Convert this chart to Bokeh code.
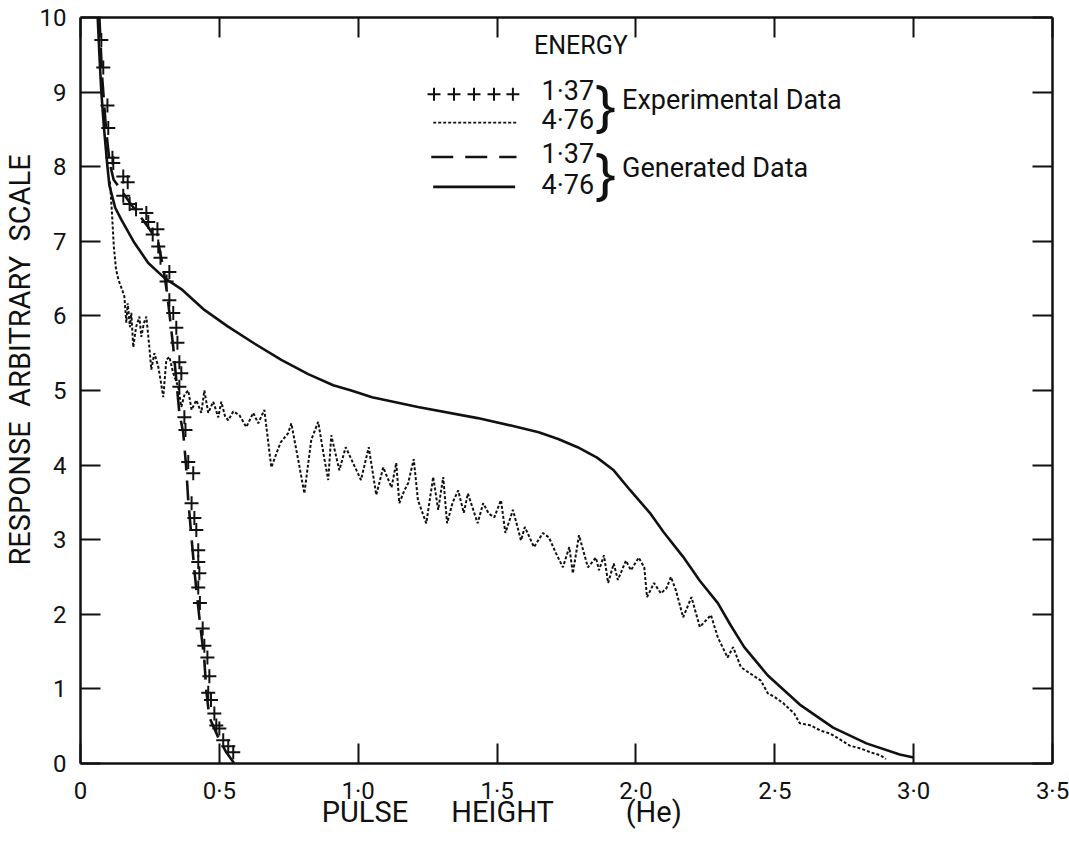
from bokeh.plotting import figure
from bokeh.models import Range1d, LinearAxis, FixedTicker, Title
from bokeh.embed import file_html
from bokeh.resources import INLINE
from bokeh.core.properties import value

# ---------------- data ----------------
# Experimental data, energy 1.37 (crosses)
exp137_x = [0.075, 0.082, 0.097, 0.100, 0.115, 0.118, 0.154, 0.170, 0.154, 0.177, 0.200, 0.237,
            0.244, 0.277, 0.260, 0.280, 0.288, 0.320, 0.310, 0.320, 0.334, 0.345, 0.349, 0.356,
            0.363, 0.356, 0.374, 0.378, 0.388, 0.406, 0.400, 0.410, 0.417, 0.424, 0.424, 0.428,
            0.424, 0.430, 0.440, 0.446, 0.457, 0.464, 0.460, 0.470, 0.482, 0.489, 0.500, 0.514,
            0.532, 0.550]
exp137_y = [9.70, 9.33, 8.82, 8.52, 8.12, 8.05, 7.87, 7.79, 7.61, 7.50, 7.43, 7.38,
            7.26, 7.16, 7.09, 6.93, 6.78, 6.59, 6.46, 6.21, 6.04, 5.84, 5.64, 5.38,
            5.23, 5.05, 4.64, 4.47, 4.04, 3.89, 3.49, 3.29, 3.13, 2.86, 2.70, 2.55,
            2.36, 2.15, 1.81, 1.58, 1.42, 1.17, 0.95, 0.85, 0.67, 0.51, 0.47, 0.31,
            0.23, 0.15]

# Experimental data, energy 4.76 (short dashes)
exp476_x = [0.106, 0.113, 0.120, 0.128, 0.137, 0.150, 0.158, 0.165, 0.170, 0.178, 0.183, 0.190,
            0.200, 0.212, 0.219, 0.228, 0.237, 0.248, 0.255, 0.266, 0.280, 0.290, 0.298, 0.309,
            0.320, 0.334, 0.352, 0.363, 0.375, 0.388, 0.400, 0.417, 0.435, 0.446, 0.460, 0.478,
            0.496, 0.507, 0.520, 0.532, 0.550, 0.572, 0.597, 0.622, 0.640, 0.662, 0.687, 0.720,
            0.748, 0.759, 0.785, 0.806, 0.831, 0.856, 0.875, 0.892, 0.903, 0.932, 0.955, 0.985,
            1.010, 1.038, 1.065, 1.090, 1.120, 1.137, 1.148, 1.165, 1.180, 1.200, 1.215, 1.245,
            1.270, 1.288, 1.306, 1.320, 1.340, 1.360, 1.380, 1.395, 1.430, 1.450, 1.470, 1.490,
            1.514, 1.530, 1.557, 1.575, 1.586, 1.600, 1.633, 1.665, 1.687, 1.712, 1.737, 1.760,
            1.773, 1.795, 1.827, 1.856, 1.867, 1.885, 1.900, 1.920, 1.935, 1.964, 1.982, 2.010,
            2.030, 2.040, 2.065, 2.090, 2.110, 2.126, 2.144, 2.170, 2.200, 2.230, 2.270, 2.295,
            2.330, 2.350, 2.378, 2.410, 2.450, 2.475, 2.500, 2.530, 2.570, 2.590, 2.630, 2.665,
            2.700, 2.740, 2.770, 2.810, 2.845, 2.880, 2.900]
exp476_y = [7.80, 7.40, 6.93, 6.62, 6.48, 6.35, 6.26, 5.91, 6.17, 5.85, 6.04, 5.58,
            5.85, 5.99, 5.72, 5.90, 5.99, 5.58, 5.28, 5.50, 5.32, 5.10, 4.91, 5.41,
            5.45, 5.23, 5.05, 4.78, 4.95, 5.00, 4.74, 4.87, 4.70, 5.00, 4.70, 4.85,
            4.64, 4.85, 4.66, 4.60, 4.72, 4.67, 4.51, 4.70, 4.56, 4.74, 3.97, 4.30,
            4.43, 4.56, 4.05, 3.62, 4.34, 4.58, 4.15, 3.80, 4.40, 3.93, 4.24, 4.00,
            3.80, 4.24, 3.60, 3.97, 3.70, 4.03, 3.49, 3.65, 3.76, 4.08, 3.53, 3.22,
            3.84, 3.40, 3.84, 3.22, 3.50, 3.66, 3.36, 3.62, 3.22, 3.49, 3.35, 3.30,
            3.53, 3.09, 3.40, 3.15, 2.99, 3.17, 2.90, 3.09, 3.03, 2.82, 2.63, 2.90,
            2.55, 3.06, 2.63, 2.76, 2.59, 2.79, 2.42, 2.68, 2.46, 2.72, 2.59, 2.76,
            2.63, 2.23, 2.42, 2.28, 2.35, 2.50, 2.32, 1.96, 2.23, 1.83, 1.99, 1.69,
            1.42, 1.56, 1.29, 1.21, 1.11, 0.94, 0.89, 0.81, 0.67, 0.54, 0.51, 0.44,
            0.40, 0.31, 0.24, 0.20, 0.15, 0.11, 0.06]

# Generated data, energy 1.37 (long dashes)
gen137_x = [0.068, 0.078, 0.092, 0.105, 0.119, 0.183, 0.244, 0.280, 0.300, 0.312, 0.320, 0.334,
            0.345, 0.356, 0.370, 0.380, 0.388, 0.410, 0.428, 0.446, 0.453, 0.464, 0.496, 0.525,
            0.554]
gen137_y = [10.0, 9.2, 8.5, 8.05, 7.83, 7.49, 7.19, 6.98, 6.60, 6.30, 6.04, 5.58,
            5.14, 4.70, 4.43, 4.00, 3.53, 2.59, 1.96, 1.38, 0.98, 0.62, 0.35, 0.15,
            0.0]

# Generated data, energy 4.76 (solid)
gen476_x = [0.062, 0.068, 0.075, 0.085, 0.097, 0.104, 0.125, 0.147, 0.194, 0.244, 0.302, 0.363,
            0.446, 0.530, 0.626, 0.723, 0.820, 0.910, 0.975, 1.050, 1.215, 1.430, 1.550, 1.650,
            1.720, 1.790, 1.860, 1.920, 1.980, 2.050, 2.100, 2.170, 2.230, 2.295, 2.340, 2.390,
            2.475, 2.590, 2.710, 2.830, 2.950, 3.000]
gen476_y = [10.0, 9.5, 9.0, 8.5, 8.0, 7.75, 7.45, 7.29, 6.98, 6.71, 6.51, 6.36,
            6.08, 5.86, 5.63, 5.41, 5.22, 5.07, 5.00, 4.91, 4.78, 4.63, 4.53, 4.44,
            4.35, 4.24, 4.10, 3.93, 3.66, 3.36, 3.10, 2.77, 2.45, 2.15, 1.86, 1.56,
            1.18, 0.79, 0.48, 0.27, 0.12, 0.08]

x_tick_values = [0, 0.5, 1.0, 1.5, 2.0, 2.5, 3.0, 3.5]
x_tick_labels = ["0", "0·5", "1·0", "1·5", "2·0", "2·5", "3·0", "3·5"]
y_tick_values = [0, 1, 2, 3, 4, 5, 6, 7, 8, 9, 10]
y_tick_labels = [str(v) for v in y_tick_values]

energy_labels = ["1·37", "4·76", "1·37", "4·76"]
group_labels = ["Experimental Data", "Generated Data"]

NB = "\u00a0"
y_title = "RESPONSE" + NB * 2 + "ARBITRARY" + NB * 2 + "SCALE"
x_title = "PULSE" + NB * 6 + "HEIGHT" + NB * 10 + "(He)" + NB * 18

FONT = "Roboto"
INK = "#111111"

p = figure(width=1069, height=843, x_range=Range1d(0, 3.5), y_range=Range1d(0, 10),
           output_backend="svg", toolbar_location=None,
           min_border_left=79, min_border_right=17, min_border_top=17, min_border_bottom=80)
p.background_fill_color = "white"
p.border_fill_color = "white"
p.outline_line_color = None
p.xgrid.grid_line_color = None
p.ygrid.grid_line_color = None


def style_axis(ax, ticks, labels, show_labels, standoff=14):
    ax.ticker = FixedTicker(ticks=ticks)
    ax.major_label_overrides = dict(zip(ticks, labels))
    ax.axis_line_color = INK
    ax.axis_line_width = 2.5
    ax.major_tick_line_color = INK
    ax.major_tick_line_width = 2
    ax.major_tick_in = 20
    ax.major_tick_out = 0
    ax.minor_tick_line_color = None
    ax.major_label_text_font = FONT
    ax.major_label_text_font_size = "24px"
    ax.major_label_text_color = INK if show_labels else None
    ax.major_label_standoff = standoff if show_labels else 0
    if not show_labels:
        ax.major_label_text_font_size = "0px"


style_axis(p.xaxis[0], x_tick_values, x_tick_labels, True, standoff=13)
style_axis(p.yaxis[0], y_tick_values, y_tick_labels, True, standoff=14)

# x axis title as the axis label, pulled up close to the tick labels
xa = p.xaxis[0]
xa.axis_label = x_title
xa.axis_label_text_font = FONT
xa.axis_label_text_font_size = "29px"
xa.axis_label_text_font_style = "normal"
xa.axis_label_text_color = INK
xa.axis_label_standoff = -13

top_axis = LinearAxis()
style_axis(top_axis, x_tick_values, x_tick_labels, False)
p.add_layout(top_axis, "above")
right_axis = LinearAxis()
style_axis(right_axis, y_tick_values, y_tick_labels, False)
p.add_layout(right_axis, "right")

# y axis title (reads bottom to top, shifted up from the frame bottom)
p.add_layout(Title(text=y_title, align="left", offset=198,
                   text_font=FONT, text_font_size="29px", text_font_style="normal",
                   text_color=INK, standoff=0), "left")

# ---------------- curves ----------------
p.line(gen476_x, gen476_y, line_color=INK, line_width=2.6)
p.line(gen137_x, gen137_y, line_color=INK, line_width=2.6, line_dash="20 10")
p.line(exp476_x, exp476_y, line_color=INK, line_width=2, line_dash="3 2")
p.scatter(exp137_x, exp137_y, marker="cross", size=14, line_color=INK, line_width=2)

# ---------------- legend ----------------
p.text(x=[1.633], y=[9.62], text=["ENERGY"], text_font=value(FONT), text_font_size="25px",
       text_color=INK, text_baseline="middle", text_align="left")
p.scatter(x=[1.273, 1.345, 1.417, 1.489, 1.557], y=[8.97] * 5, marker="cross", size=13,
          line_color=INK, line_width=2)
p.line([1.27, 1.57], [8.59, 8.59], line_color=INK, line_width=1.8, line_dash="3 2")
p.line([1.263, 1.57], [8.13, 8.13], line_color=INK, line_width=2.6, line_dash="22 12")
p.line([1.27, 1.565], [7.73, 7.73], line_color=INK, line_width=2.6)
p.text(x=[1.66] * 4, y=[9.02, 8.63, 8.17, 7.76], text=energy_labels, text_font=value(FONT),
       text_font_size="27px", text_color=INK, text_baseline="middle", text_align="left")
p.text(x=[1.89, 1.89], y=[8.84, 7.93], text=["}", "}"], text_font=value("Noto Sans"),
       text_font_size="56px", text_color=INK, text_baseline="middle", text_align="center")
p.text(x=[1.95, 1.95], y=[8.90, 7.98], text=group_labels, text_font=value(FONT),
       text_font_size="27px", text_color=INK, text_baseline="middle", text_align="left")

open("out.html", "w").write(file_html(p, INLINE))
